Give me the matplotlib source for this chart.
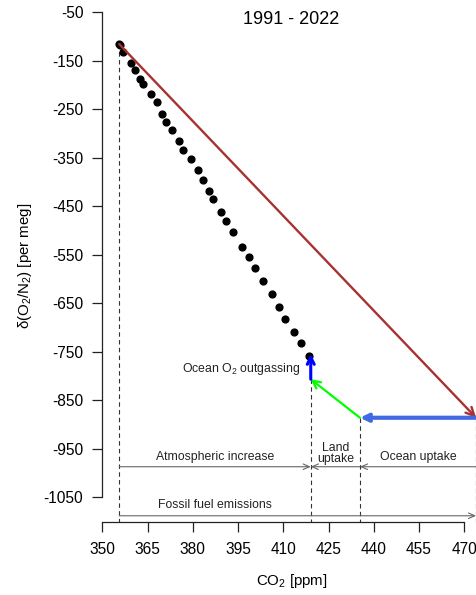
import matplotlib
matplotlib.use("Agg")
import matplotlib.pyplot as plt

plt.rcParams["font.family"] = ["Liberation Sans", "DejaVu Sans"]
plt.rcParams["mathtext.fontset"] = "custom"
plt.rcParams["mathtext.rm"] = "Liberation Sans"
plt.rcParams["mathtext.it"] = "Liberation Sans:italic"
plt.rcParams["axes.unicode_minus"] = False

# annual means 1991-2022: CO2 [ppm] and d(O2/N2) [per meg]
years = list(range(1991, 2023))
co2 = [355.6, 355.9, 356.8, 359.4, 360.7, 362.5, 363.4, 366.0, 368.0, 369.7,
       371.1, 373.1, 375.4, 376.8, 379.4, 381.7, 383.3, 385.3, 386.6, 389.2,
       391.0, 393.2, 396.3, 398.6, 400.6, 403.4, 406.2, 408.7, 410.7, 413.5,
       415.8, 418.4]
o2n2 = [-116.0, -118.0, -131.9, -155.2, -170.2, -188.1, -199.1, -218.5, -235.0, -259.7,
        -277.4, -293.9, -316.0, -333.5, -353.5, -375.8, -396.4, -418.5, -434.9, -462.4,
        -480.4, -504.3, -533.9, -555.2, -577.0, -605.3, -631.4, -658.9, -683.6, -709.8,
        -733.1, -759.3]

# budget points: start, after fossil fuel, after ocean uptake, after land uptake, end
co2_start = 355.6
co2_fossil = 473.9
co2_ocean = 435.4
co2_land = 419.1
o2_start = -116.0
o2_fossil = -886.5
o2_land = -807.0
o2_end = -755.0

xticks = [350, 365, 380, 395, 410, 425, 440, 455, 470]
yticks = [-50, -150, -250, -350, -450, -550, -650, -750, -850, -950, -1050]

fig = plt.figure(figsize=(4.77, 5.95), dpi=100)
ax = fig.add_axes([0.1828, 0.1198, 0.8159, 0.8763])
ax.set_xlim(345, 474)
ax.set_ylim(-1105, -30)

for s in ["top", "right"]:
    ax.spines[s].set_visible(False)
ax.spines["left"].set_position(("data", 350))
ax.spines["left"].set_bounds(-1050, -50)
ax.spines["bottom"].set_position(("data", -1101.5))
ax.spines["bottom"].set_bounds(350, 470)
for s in ["left", "bottom"]:
    ax.spines[s].set_linewidth(0.9)
    ax.spines[s].set_color("#222222")

ax.set_xticks(xticks)
ax.set_xticklabels([str(v) for v in xticks])
ax.set_yticks(yticks)
ax.set_yticklabels([str(v) for v in yticks])
ax.tick_params(axis="both", length=7.2, width=0.9, color="#222222", labelsize=11.2)
ax.tick_params(axis="y", pad=6.5)
ax.tick_params(axis="x", pad=7.5)

# dashed guides
dash = dict(color="#333333", lw=0.8, linestyle=(0, (4, 3)))
ax.plot([co2_start, co2_start], [o2_start, -1101.5], **dash)
ax.plot([co2_land, co2_land], [o2_land, -1101.5], **dash)
ax.plot([co2_ocean, co2_ocean], [o2_fossil, -1101.5], **dash)
ax.plot([co2_fossil, co2_fossil], [o2_fossil, -1101.5], **dash)

ax.plot(co2, o2n2, "o", color="black", ms=4.9, zorder=3)


def arrow(x0, y0, x1, y1, color, lw, hl=0.5, hw=0.25):
    ax.annotate("", xy=(x1, y1), xytext=(x0, y0),
                arrowprops=dict(arrowstyle=f"->,head_length={hl},head_width={hw}",
                                color=color, lw=lw, shrinkA=0, shrinkB=0),
                annotation_clip=False, zorder=4)


arrow(co2_start, o2_start, co2_fossil, o2_fossil, "#A83232", 1.7, 0.6, 0.3)
arrow(co2_fossil, o2_fossil, co2_ocean, o2_fossil, "#4169E1", 3.0, 0.45, 0.22)
arrow(co2_ocean, o2_fossil, co2_land, o2_land, "#00FF00", 1.6, 0.55, 0.28)
arrow(co2_land, o2_land, co2_land, o2_end, "#0000FF", 2.2, 0.5, 0.25)

# budget brackets
grey = "#666666"
arrow(co2_start, -987.5, co2_land, -987.5, grey, 0.8, 0.45, 0.2)
arrow(co2_ocean, -987.5, co2_land, -987.5, grey, 0.8, 0.45, 0.2)
arrow(co2_fossil, -987.5, co2_ocean, -987.5, grey, 0.8, 0.45, 0.2)
arrow(co2_start, -1088.6, co2_fossil, -1088.6, grey, 0.8, 0.45, 0.2)

tkw = dict(fontsize=8.8, color="#222222", ha="center", va="center")
ax.text((co2_start + co2_land) / 2, -967.5, "Atmospheric increase", **tkw)
ax.text((co2_land + co2_ocean) / 2, -960, "Land\nuptake", linespacing=0.85, **tkw)
ax.text((co2_ocean + co2_fossil) / 2, -967.5, "Ocean uptake", **tkw)
ax.text((co2_start + co2_land) / 2, -1067, "Fossil fuel emissions", **tkw)
ax.text(415.5, -786, r"Ocean O$_\mathregular{2}$ outgassing",
        fontsize=8.8, color="#222222", ha="right", va="center")

fig.text(290.7 / 477, 1 - 20 / 595, "1991 - 2022", fontsize=13, ha="center", va="center")
fig.text(291.7 / 477, 1 - 581 / 595, r"CO$_\mathregular{2}$ [ppm]", fontsize=10.8,
         ha="center", va="center")
fig.text(25 / 477, 1 - 266 / 595, r"$\mathregular{\delta}$(O$_\mathregular{2}$/N$_\mathregular{2}$) [per meg]",
         fontsize=10.8, ha="center", va="center", rotation=90)

fig.savefig("out.png", dpi=100)
